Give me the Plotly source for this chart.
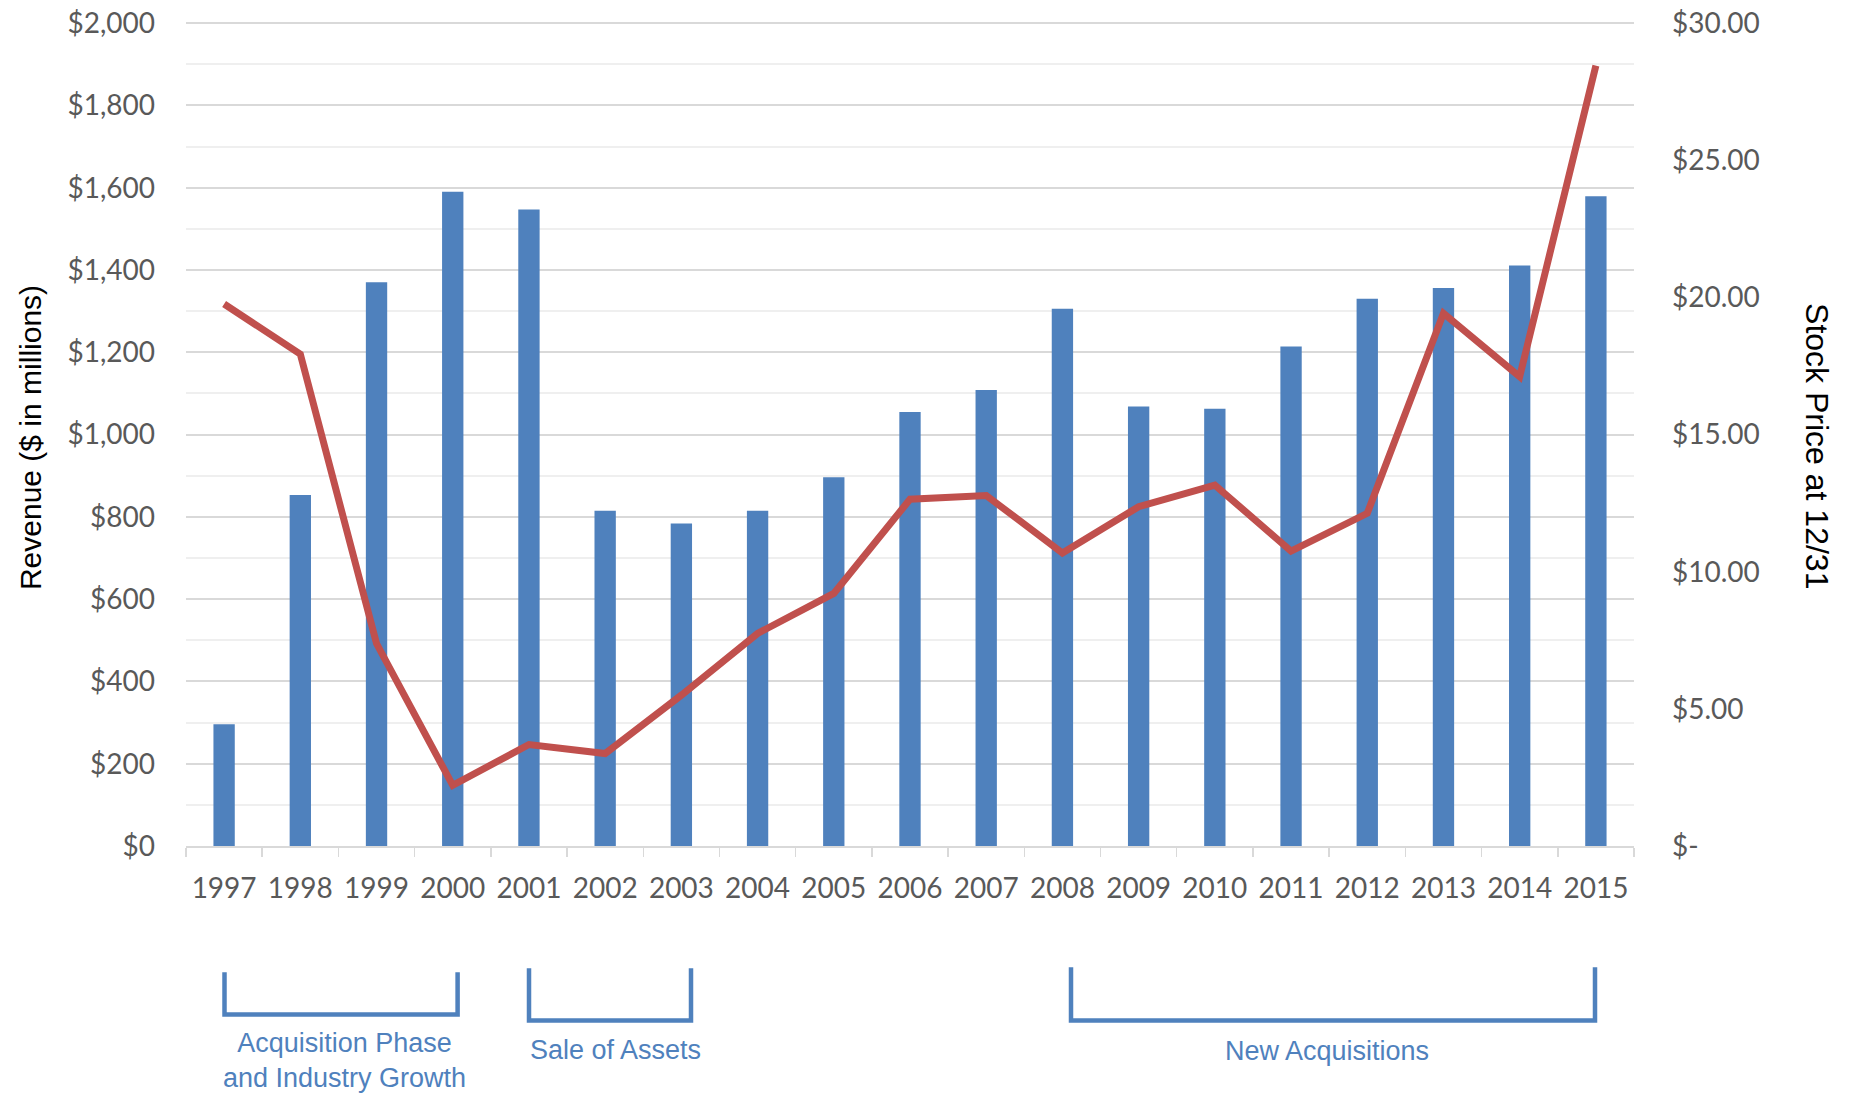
import plotly.graph_objects as go

years = [str(y) for y in range(1997, 2016)]
revenue = [296, 853, 1370, 1590, 1547, 815, 784, 815, 896, 1055, 1108, 1306,
           1068, 1063, 1214, 1330, 1356, 1411, 1579]
stock_price = [19.76, 17.93, 7.38, 2.21, 3.70, 3.37, 5.50, 7.75, 9.21, 12.64,
               12.78, 10.68, 12.37, 13.16, 10.75, 12.13, 19.42, 17.11, 28.45]

left_tickvals = [0, 200, 400, 600, 800, 1000, 1200, 1400, 1600, 1800, 2000]
left_ticktext = ["$0", "$200", "$400", "$600", "$800", "$1,000", "$1,200",
                 "$1,400", "$1,600", "$1,800", "$2,000"]
right_tickvals = [0, 5, 10, 15, 20, 25, 30]
right_ticktext = ["$-", "$5.00", "$10.00", "$15.00", "$20.00", "$25.00", "$30.00"]

phase_labels = ["Acquisition Phase<br>and Industry Growth", "Sale of Assets",
                "New Acquisitions"]

W, H = 1856, 1097
# plot area in page pixels (0 .. 2000 / 0 .. 30)
L, R, T, B = 186, 1634, 23.3, 845.7
YMAX1, YMAX2 = 2010, 30.15
T_ext = B - (B - T) * YMAX1 / 2000


def px(x):
    return (x - L) / (R - L)


def py(y):
    return (B - y) / (B - T_ext)


BAR = "#4F81BD"
LINE = "#C0504D"
TICKFONT = dict(family="Lato, Open Sans, sans-serif", size=28, color="#595959")

fig = go.Figure()
fig.add_trace(go.Bar(x=years, y=revenue, marker=dict(color=BAR, line=dict(width=0)),
                     name="Revenue"))
fig.add_trace(go.Scatter(x=years, y=stock_price, yaxis="y2", mode="lines",
                         line=dict(color=LINE, width=7), name="Stock Price"))

fig.update_layout(
    template="none",
    width=W, height=H,
    margin=dict(l=L, r=W - R, t=T_ext, b=H - B, pad=0, autoexpand=False),
    paper_bgcolor="white", plot_bgcolor="white",
    showlegend=False,
    bargap=0.72,
    xaxis=dict(type="category", showgrid=False, showline=True, linecolor="#d9d9d9",
               linewidth=2, ticks="outside", tickson="boundaries", ticklen=9,
               tickcolor="#d9d9d9", tickwidth=1.5, tickfont=TICKFONT,
               ticklabelstandoff=16, zeroline=False, automargin=False),
    yaxis=dict(range=[0, YMAX1], tickvals=left_tickvals, ticktext=left_ticktext,
               showgrid=True, gridcolor="#d9d9d9", gridwidth=2,
               minor=dict(dtick=100, showgrid=True, gridcolor="#efefef", gridwidth=2),
               zeroline=False, showline=False, ticks="", tickfont=TICKFONT,
               ticklabelstandoff=30, automargin=False, ticklabeloverflow="allow"),
    yaxis2=dict(range=[0, YMAX2], overlaying="y", side="right", tickvals=right_tickvals,
                ticktext=right_ticktext, showgrid=False, zeroline=False,
                showline=False, ticks="", tickfont=TICKFONT, ticklabelstandoff=37,
                automargin=False, ticklabeloverflow="allow"),
)

# axis titles
fig.add_annotation(x=px(30), y=py(438), xref="paper", yref="paper",
                   text="Revenue ($ in millions)", textangle=-90, showarrow=False,
                   font=dict(family="Liberation Sans, Arial, sans-serif", size=30,
                             color="black"), xanchor="center", yanchor="middle")
fig.add_annotation(x=px(1817), y=py(446), xref="paper", yref="paper",
                   text="Stock Price at 12/31", textangle=90, showarrow=False,
                   font=dict(family="Liberation Sans, Arial, sans-serif", size=32,
                             color="black"), xanchor="center", yanchor="middle")

# phase brackets
brackets = [(224.5, 457.6, 972, 1014), (529, 691, 968, 1020), (1071, 1595, 967, 1020)]
for x0, x1, yt, yb in brackets:
    path = "M {a},{t} L {a},{b} L {c},{b} L {c},{t}".format(
        a=px(x0), c=px(x1), t=py(yt), b=py(yb))
    fig.add_shape(type="path", path=path, xref="paper", yref="paper",
                  line=dict(color=BAR, width=4.5))

label_pos = [(344, 1060), (615, 1050), (1327, 1051)]
label_size = [27, 27, 27]
for (lx, ly), sz, txt in zip(label_pos, label_size, phase_labels):
    fig.add_annotation(x=px(lx), y=py(ly), xref="paper", yref="paper", text=txt,
                       showarrow=False, xanchor="center", yanchor="middle",
                       font=dict(family="Liberation Sans, Arial, sans-serif",
                                 size=sz, color=BAR), align="center")

fig.write_html("out.html", config={"displayModeBar": False, "staticPlot": True},
               post_script="document.body.style.margin='0';document.body.style.overflow='hidden';")
